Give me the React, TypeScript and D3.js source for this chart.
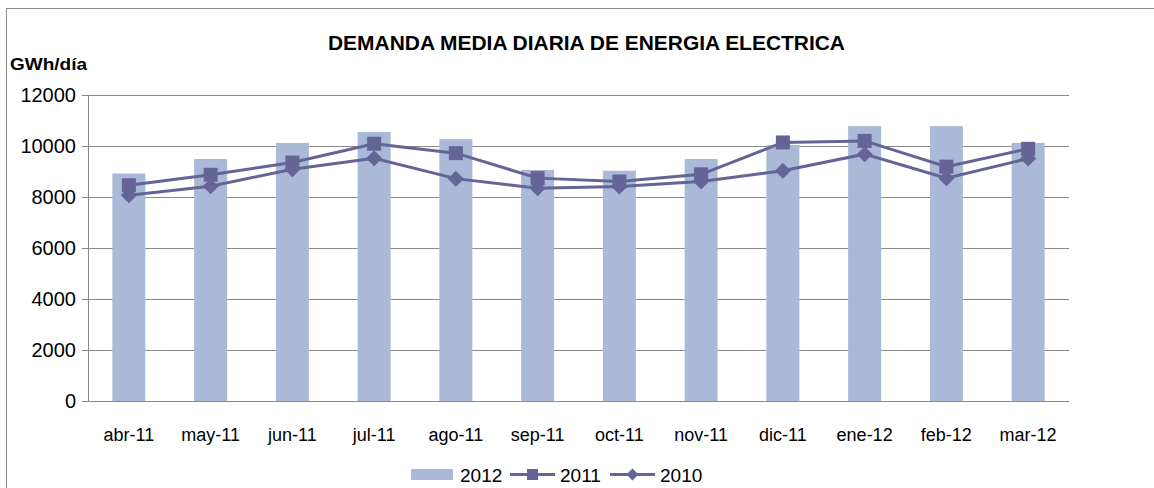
import React from "react";
import * as d3 from "d3";

const categories = ["abr-11", "may-11", "jun-11", "jul-11", "ago-11", "sep-11", "oct-11", "nov-11", "dic-11", "ene-12", "feb-12", "mar-12"];
const values2012 = [8920, 9490, 10120, 10550, 10270, 9060, 9030, 9490, 10040, 10780, 10780, 10120];
const values2011 = [8460, 8870, 9350, 10090, 9720, 8740, 8610, 8890, 10140, 10200, 9190, 9890];
const values2010 = [8070, 8420, 9090, 9520, 8720, 8340, 8410, 8610, 9030, 9680, 8740, 9510];
const yTicks = [0, 2000, 4000, 6000, 8000, 10000, 12000];
const legendLabels = ["2012", "2011", "2010"];

const W = 1154;
const H = 488;
const BAR = "#A9B9D7";
const LINE = "#646497";
const GRID = "#8a8a8a";
const FONT = "'Liberation Sans', Arial, sans-serif";

export default function App() {
  const x = d3.scaleBand<string>().domain(categories).range([88, 1069]);
  const y = d3.scaleLinear().domain([0, 12000]).range([401, 95]);
  const barW = 33;
  const cx = (c: string) => (x(c) as number) + x.bandwidth() / 2;
  const line = d3
    .line<number>()
    .x((_, i) => cx(categories[i]))
    .y((v) => y(v));
  const sq = 14;
  const dm = 8;
  const crisp = (v: number) => Math.round(v) + 0.5;

  return (
    <svg
      width={W}
      height={H}
      style={{ position: "absolute", left: 0, top: 0, background: "#fff" }}
      fontFamily={FONT}
    >
      <rect x={6.5} y={8.5} width={1300} height={600} fill="#fff" stroke="#8c8c8c" strokeWidth={1} />
      <text x={328} y={50} fontSize={21} fontWeight="bold" textLength={517} lengthAdjust="spacingAndGlyphs" fill="#000">
        DEMANDA MEDIA DIARIA DE ENERGIA ELECTRICA
      </text>
      <text x={10} y={70} fontSize={17} fontWeight="bold" textLength={77} lengthAdjust="spacingAndGlyphs" fill="#000">
        GWh/día
      </text>

      {yTicks.map((t) => (
        <g key={t}>
          <line x1={82} x2={1069} y1={crisp(y(t))} y2={crisp(y(t))} stroke={GRID} strokeWidth={1} />
          <text x={76} y={y(t)} dy="0.36em" textAnchor="end" fontSize={20} fill="#000">
            {t}
          </text>
        </g>
      ))}
      <line x1={88.5} x2={88.5} y1={y(12000)} y2={y(0)} stroke={GRID} strokeWidth={1} />

      {categories.map((c, i) => (
        <rect key={c} x={cx(c) - barW / 2} y={y(values2012[i])} width={barW} height={y(0) - y(values2012[i])} fill={BAR} />
      ))}
      <line x1={88} x2={1069} y1={crisp(y(0))} y2={crisp(y(0))} stroke={GRID} strokeWidth={1} />

      <path d={line(values2010) || ""} fill="none" stroke={LINE} strokeWidth={3} />
      <path d={line(values2011) || ""} fill="none" stroke={LINE} strokeWidth={3} />
      {values2010.map((v, i) => {
        const px = cx(categories[i]);
        const py = y(v);
        return <path key={"d" + i} d={`M${px},${py - dm}L${px + dm},${py}L${px},${py + dm}L${px - dm},${py}Z`} fill={LINE} />;
      })}
      {values2011.map((v, i) => (
        <rect key={"s" + i} x={cx(categories[i]) - sq / 2} y={y(v) - sq / 2} width={sq} height={sq} fill={LINE} />
      ))}

      {categories.map((c) => (
        <text key={c} x={cx(c)} y={441} textAnchor="middle" fontSize={18} fill="#000">
          {c}
        </text>
      ))}

      <g>
        <rect x={411} y={469} width={42} height={11} fill={BAR} />
        <text x={460} y={482} fontSize={19} fill="#000">{legendLabels[0]}</text>
        <line x1={510} x2={555} y1={474.5} y2={474.5} stroke={LINE} strokeWidth={3} />
        <rect x={527} y={469} width={11} height={11} fill={LINE} />
        <text x={560} y={482} fontSize={19} fill="#000">{legendLabels[1]}</text>
        <line x1={610} x2={655} y1={474.5} y2={474.5} stroke={LINE} strokeWidth={3} />
        <path d={`M632.5,468.5L638.5,474.5L632.5,480.5L626.5,474.5Z`} fill={LINE} />
        <text x={660} y={482} fontSize={19} fill="#000">{legendLabels[2]}</text>
      </g>
    </svg>
  );
}
